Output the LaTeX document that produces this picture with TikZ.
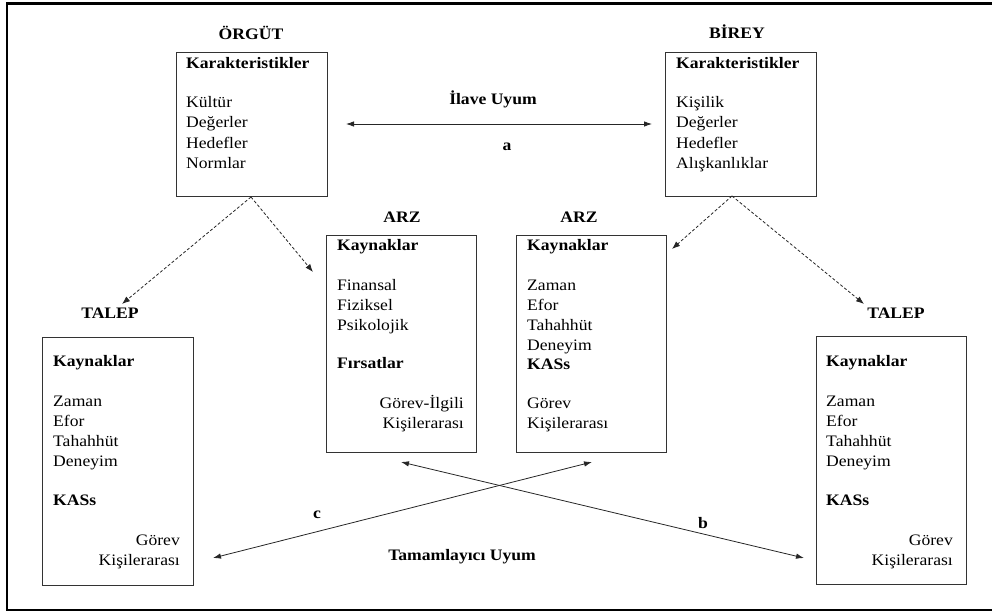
\documentclass[tikz,border=0pt]{standalone}
\usepackage{fontspec}
\setmainfont{Liberation Serif}[FakeStretch=1.1]
\usetikzlibrary{arrows.meta}
\begin{document}
\begin{tikzpicture}[x=1pt,y=-1pt,
  box/.style={draw=black!80,line width=0.9pt,inner sep=0pt},
  lbl/.style={anchor=base west,inner sep=0pt,font=\fontsize{16}{20}\selectfont},
  lblr/.style={anchor=base east,inner sep=0pt,font=\fontsize{16}{20}\selectfont},
  hd/.style={anchor=base west,inner sep=0pt,font=\fontsize{16}{20}\selectfont\bfseries},
  ttl/.style={anchor=base,inner sep=0pt,font=\fontsize{16}{20}\selectfont\bfseries},
  dasharrow/.style={draw=black!85,line width=0.8pt,dash pattern=on 3pt off 2pt,-{Latex[length=8pt,width=6pt]}},
  solidarrow/.style={draw=black!85,line width=0.8pt,{Latex[length=8pt,width=5.5pt]}-{Latex[length=8pt,width=5.5pt]}}]
\useasboundingbox (0,0) rectangle (992,615);
\draw[line width=2.6pt] (7,3.5) rectangle (1012,610);

% boxes
\node[box,minimum width=151pt,minimum height=144pt] (org) at (251.5,124) {};
\node[box,minimum width=151pt,minimum height=144pt] (bir) at (740.5,124) {};
\node[box,minimum width=150pt,minimum height=217pt] (arzL) at (401,343.5) {};
\node[box,minimum width=150pt,minimum height=217pt] (arzR) at (591,343.5) {};
\node[box,minimum width=151pt,minimum height=248pt] (talL) at (117.5,461) {};
\node[box,minimum width=150pt,minimum height=248pt] (talR) at (891,460) {};

% titles
\node[ttl] (tOrg) at (251,40) {ÖRGÜT};
\node[ttl] (tBir) at (737,39) {BİREY};
\node[ttl] (tArzL) at (402,222) {ARZ};
\node[ttl] (tArzR) at (579,222) {ARZ};
\node[ttl] (tTalL) at (110,318) {TALEP};
\node[ttl] (tTalR) at (896,318) {TALEP};
\node[ttl] (ilave) at (493,105) {İlave Uyum};
\node[ttl] (la) at (507,150) {a};
\node[ttl] (lc) at (317,518) {c};
\node[ttl] (lb) at (703,528) {b};
\node[ttl] (tam) at (462,560) {Tamamlayıcı Uyum};

% ORGUT text
\node[hd] (o0) at (186,69) {Karakteristikler};
\node[lbl] (o1) at (186,108) {Kültür};
\node[lbl] (o2) at (186,128) {Değerler};
\node[lbl] (o3) at (186,148) {Hedefler};
\node[lbl] (o4) at (186,168) {Normlar};

% BIREY text
\node[hd] (b0) at (676,69) {Karakteristikler};
\node[lbl] (b1) at (676,108) {Kişilik};
\node[lbl] (b2) at (676,128) {Değerler};
\node[lbl] (b3) at (676,148) {Hedefler};
\node[lbl] (b4) at (676,168) {Alışkanlıklar};

% ARZ left
\node[hd] (al0) at (337,250) {Kaynaklar};
\node[lbl] (al1) at (337,290) {Finansal};
\node[lbl] (al2) at (337,310) {Fiziksel};
\node[lbl] (al3) at (337,330) {Psikolojik};
\node[hd] (al4) at (337,368) {Fırsatlar};
\node[lblr] (al5) at (464,408) {Görev-İlgili};
\node[lblr] (al6) at (464,428) {Kişilerarası};

% ARZ right
\node[hd] (ar0) at (527,250) {Kaynaklar};
\node[lbl] (ar1) at (527,290) {Zaman};
\node[lbl] (ar2) at (527,310) {Efor};
\node[lbl] (ar3) at (527,330) {Tahahhüt};
\node[lbl] (ar4) at (527,350) {Deneyim};
\node[hd] (ar5) at (527,369) {KASs};
\node[lbl] (ar6) at (527,408) {Görev};
\node[lbl] (ar7) at (527,428) {Kişilerarası};

% TALEP left
\node[hd] (tl0) at (53,366) {Kaynaklar};
\node[lbl] (tl1) at (53,406) {Zaman};
\node[lbl] (tl2) at (53,426) {Efor};
\node[lbl] (tl3) at (53,446) {Tahahhüt};
\node[lbl] (tl4) at (53,466) {Deneyim};
\node[hd] (tl5) at (53,505) {KASs};
\node[lblr] (tl6) at (180,545) {Görev};
\node[lblr] (tl7) at (180,565) {Kişilerarası};

% TALEP right
\node[hd] (tr0) at (826,366) {Kaynaklar};
\node[lbl] (tr1) at (826,406) {Zaman};
\node[lbl] (tr2) at (826,426) {Efor};
\node[lbl] (tr3) at (826,446) {Tahahhüt};
\node[lbl] (tr4) at (826,466) {Deneyim};
\node[hd] (tr5) at (826,505) {KASs};
\node[lblr] (tr6) at (953,545) {Görev};
\node[lblr] (tr7) at (953,565) {Kişilerarası};

% connector end points
\coordinate (aL) at (346,124);
\coordinate (aR) at (652,124);
\coordinate (oS) at (251,197);
\coordinate (bS) at (732,196);
\coordinate (dOT) at (122,304);
\coordinate (dOA) at (313,272);
\coordinate (dBA) at (672,249);
\coordinate (dBT) at (864,304);
\coordinate (bTop) at (401,462);
\coordinate (bBot) at (804,558);
\coordinate (cTop) at (592,462);
\coordinate (cBot) at (213,558);

\draw[solidarrow] (aL) -- (aR);
\draw[dasharrow] (oS) -- (dOT);
\draw[dasharrow] (oS) -- (dOA);
\draw[dasharrow] (bS) -- (dBA);
\draw[dasharrow] (bS) -- (dBT);
\draw[solidarrow] (bTop) -- (bBot);
\draw[solidarrow] (cBot) -- (cTop);
\end{tikzpicture}
\end{document}
